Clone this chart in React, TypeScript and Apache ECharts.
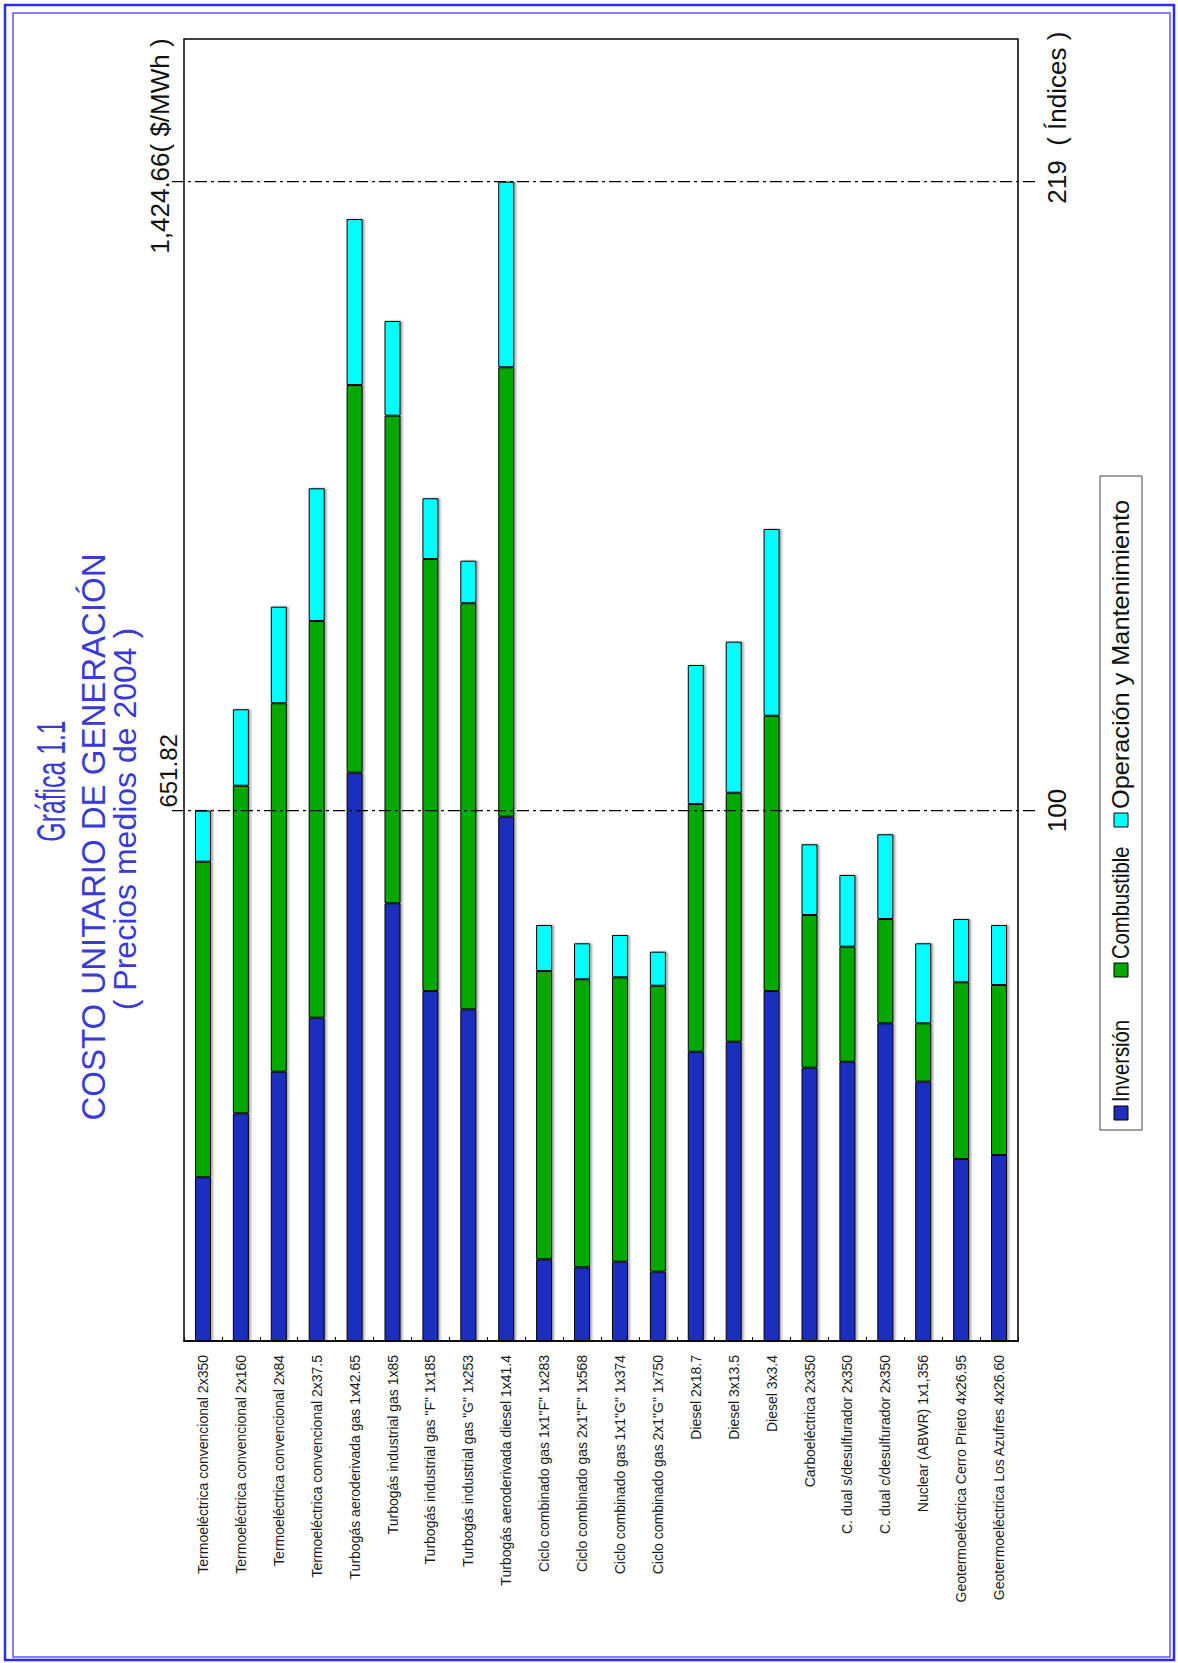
import React, { useEffect, useRef } from "react";
import * as echarts from "echarts";

const categories = [
  "Termoeléctrica convencional 2x350",
  "Termoeléctrica convencional 2x160",
  "Termoeléctrica convencional 2x84",
  "Termoeléctrica convencional 2x37.5",
  "Turbogás aeroderivada gas 1x42.65",
  "Turbogás industrial gas 1x85",
  'Turbogás industrial gas "F" 1x185',
  'Turbogás industrial gas "G" 1x253',
  "Turbogás aeroderivada diesel 1x41.4",
  'Ciclo combinado gas 1x1"F" 1x283',
  'Ciclo combinado gas 2x1"F" 1x568',
  'Ciclo combinado gas 1x1"G" 1x374',
  'Ciclo combinado gas 2x1"G" 1x750',
  "Diesel 2x18.7",
  "Diesel 3x13.5",
  "Diesel 3x3.4",
  "Carboeléctrica 2x350",
  "C. dual s/desulfurador 2x350",
  "C. dual c/desulfurador 2x350",
  "Nuclear (ABWR) 1x1,356",
  "Geotermoeléctrica Cerro Prieto 4x26.95",
  "Geotermoeléctrica Los Azufres 4x26.60",
];

const inversion = [201.2, 279.8, 330.9, 397.3, 698.4, 537.9, 430.1, 407.6, 644.3, 100.4, 90.6, 97.5, 85.2, 355.5, 367.8, 430.1, 335.9, 343.2, 390.4, 318.7, 223.7, 228.6];
const combustible = [387.8, 402.6, 452.8, 487.5, 476.4, 599.2, 530.9, 499.0, 552.3, 354.3, 353.9, 349.4, 351.4, 304.4, 306.0, 338.3, 187.6, 141.4, 128.2, 71.7, 217.1, 208.9];
const operacion = [62.8, 93.9, 118.7, 163.1, 204.0, 116.4, 74.6, 52.3, 228.1, 56.5, 44.2, 52.0, 41.8, 170.8, 185.6, 229.5, 86.9, 88.1, 104.1, 98.3, 77.8, 73.7];

const seriesNames = ["Inversión", "Combustible", "Operación y Mantenimiento"];
const seriesColors = ["#1f2fbd", "#00a800", "#00ffff"];

const refCost = [651.82, 1424.66];
const refCostLabels = ["651.82", "1,424.66( $/MWh )"];
const refIndexLabels = ["100", "219  ( Índices )"];

const titleLines = ["Gráfica 1.1", "COSTO UNITARIO DE GENERACIÓN", "( Precios medios de 2004 )"];

const yMin = 0;
const yMax = 1600;

const FONT = "'Liberation Sans', Arial, Helvetica, sans-serif";
const TITLE_BLUE = "#3a3ad6";

export default function App() {
  const ref = useRef<HTMLDivElement>(null);

  useEffect(() => {
    if (!ref.current) return;
    const chart = echarts.init(ref.current, null, { renderer: "svg" });
    const gridL = 184;
    const gridT = 39;
    const gridW = 834;
    const gridH = 1302;

    const values = [inversion, combustible, operacion];

    chart.setOption({
      animation: false,
      backgroundColor: "#ffffff",
      textStyle: { fontFamily: FONT },
      grid: {
        left: gridL,
        top: gridT,
        width: gridW,
        height: gridH,
        show: true,
        borderColor: "#000",
        borderWidth: 1.5,
        backgroundColor: "transparent",
        containLabel: false,
      },
      xAxis: {
        type: "category",
        data: categories,
        boundaryGap: true,
        axisLine: { show: true, lineStyle: { color: "#000", width: 1.5 } },
        axisTick: { show: true, inside: true, length: 4, interval: 0, lineStyle: { color: "#000" } },
        axisLabel: {
          rotate: 90,
          interval: 0,
          margin: 14,
          fontSize: 14,
          color: "#1a1a1a",
          fontFamily: FONT,
        },
        splitLine: { show: false },
      },
      yAxis: {
        type: "value",
        min: yMin,
        max: yMax,
        show: false,
        splitLine: { show: false },
      },
      series: values.map((v, i) => ({
        name: seriesNames[i],
        type: "bar",
        stack: "total",
        data: v,
        barWidth: 16,
        itemStyle: {
          color: seriesColors[i],
          borderColor: "#000",
          borderWidth: 1,
          shadowColor: "rgba(0,0,0,0.35)",
          shadowBlur: 2,
          shadowOffsetX: 2,
          shadowOffsetY: 0,
        },
      })),
    });

    const yLow = chart.convertToPixel({ yAxisIndex: 0 }, refCost[0]) as number;
    const yHigh = chart.convertToPixel({ yAxisIndex: 0 }, refCost[1]) as number;

    const rot = Math.PI / 2;
    const dash = [12, 4, 3, 4];
    const lineX1 = 172;
    const lineX2 = 1037;

    const legendItems = [
      { sq: 1113, txt: 1102, sx: 0.88 },
      { sq: 970, txt: 959, sx: 0.88 },
      { sq: 820, txt: 809, sx: 1.1 },
    ];

    const graphic: any[] = [
      // outer page frame (double blue line)
      {
        type: "rect",
        shape: { x: 5, y: 5, width: 1169, height: 1655 },
        style: { fill: "none", stroke: "#2b2bff", lineWidth: 2.5 },
        silent: true,
      },
      {
        type: "rect",
        shape: { x: 13, y: 13, width: 1157, height: 1644 },
        style: { fill: "none", stroke: "#5a5aff", lineWidth: 1.5 },
        silent: true,
      },
      // reference lines
      {
        type: "line",
        shape: { x1: lineX1, y1: yLow, x2: lineX2, y2: yLow },
        style: { stroke: "#000", lineWidth: 1.2, lineDash: dash },
        z: 10,
      },
      {
        type: "line",
        shape: { x1: lineX1, y1: yHigh, x2: lineX2, y2: yHigh },
        style: { stroke: "#000", lineWidth: 1.2, lineDash: dash },
        z: 10,
      },
      // left cost labels
      {
        type: "text",
        x: 168,
        y: yLow - 3,
        rotation: rot,
        style: { text: refCostLabels[0], font: `24px ${FONT}`, fill: "#111", align: "left", verticalAlign: "middle" },
      },
      {
        type: "text",
        x: 160,
        y: yHigh + 72,
        rotation: rot,
        style: { text: refCostLabels[1], font: `26px ${FONT}`, fill: "#111", align: "left", verticalAlign: "middle" },
      },
      // right index labels
      {
        type: "text",
        x: 1057,
        y: yLow,
        rotation: rot,
        style: { text: refIndexLabels[0], font: `26px ${FONT}`, fill: "#111", align: "center", verticalAlign: "middle" },
      },
      {
        type: "text",
        x: 1057,
        y: yHigh + 22,
        rotation: rot,
        style: { text: refIndexLabels[1], font: `26px ${FONT}`, fill: "#111", align: "left", verticalAlign: "middle" },
      },
      // titles
      {
        type: "text",
        x: 51,
        y: 781,
        rotation: rot,
        scaleX: 0.62,
        style: { text: titleLines[0], font: `40px ${FONT}`, fill: TITLE_BLUE, align: "center", verticalAlign: "middle" },
      },
      {
        type: "text",
        x: 93,
        y: 837,
        rotation: rot,
        style: { text: titleLines[1], font: `33px ${FONT}`, fill: TITLE_BLUE, align: "center", verticalAlign: "middle" },
      },
      {
        type: "text",
        x: 125,
        y: 819,
        rotation: rot,
        style: { text: titleLines[2], font: `32px ${FONT}`, fill: TITLE_BLUE, align: "center", verticalAlign: "middle" },
      },
      // legend box
      {
        type: "rect",
        shape: { x: 1100, y: 476, width: 42, height: 654 },
        style: { fill: "#fff", stroke: "#444", lineWidth: 1 },
      },
    ];

    legendItems.forEach((it, i) => {
      graphic.push({
        type: "rect",
        shape: { x: 1114, y: it.sq - 7, width: 14, height: 14 },
        style: { fill: seriesColors[i], stroke: "#000", lineWidth: 1 },
      });
      graphic.push({
        type: "text",
        x: 1121,
        y: it.txt,
        rotation: rot,
        scaleX: it.sx,
        style: { text: seriesNames[i], font: `23px ${FONT}`, fill: "#111", align: "left", verticalAlign: "middle" },
      });
    });

    chart.setOption({ graphic });

    return () => chart.dispose();
  }, []);

  return (
    <div
      ref={ref}
      style={{ position: "absolute", left: 0, top: 0, width: 1178, height: 1663, background: "#fff" }}
    />
  );
}
